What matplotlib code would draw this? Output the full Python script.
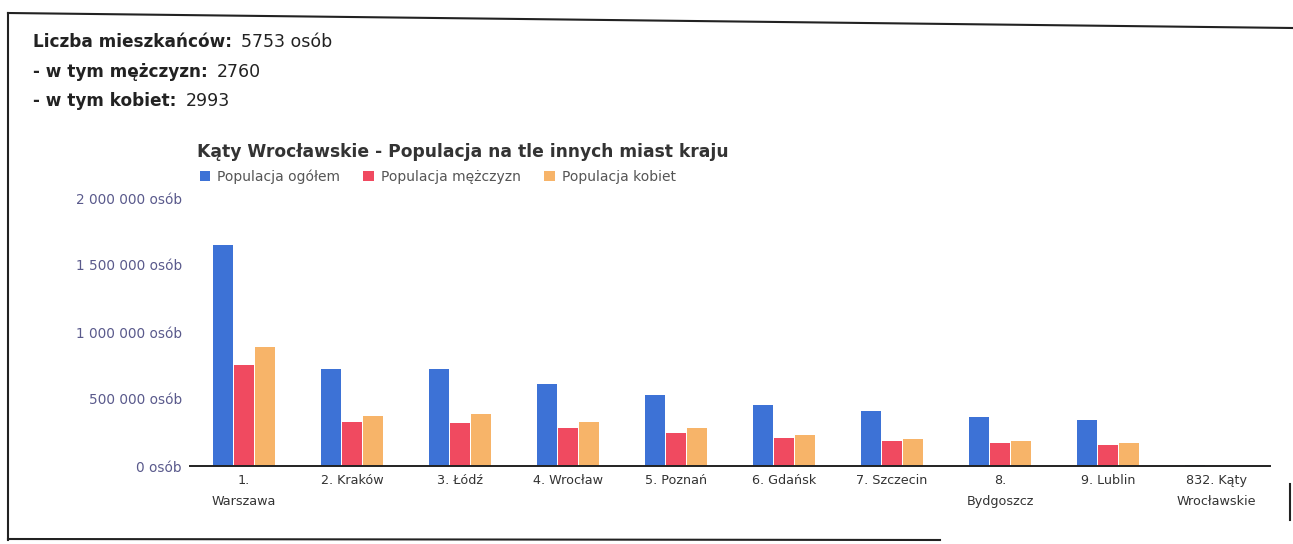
import matplotlib
matplotlib.use("Agg")
import matplotlib.pyplot as plt
import numpy as np
from matplotlib.lines import Line2D

plt.rcParams['font.family'] = ['DejaVu Sans']

categories = ["1.\nWarszawa", "2. Kraków", "3. Łódź", "4. Wrocław", "5. Poznań",
              "6. Gdańsk", "7. Szczecin", "8.\nBydgoszcz", "9. Lublin", "832. Kąty\nWrocławskie"]
pop_total = [1650000, 723000, 725000, 613000, 530000, 455000, 410000, 364000, 340000, 5753]
pop_men = [753000, 328000, 324000, 280000, 250000, 210000, 190000, 170000, 153000, 2760]
pop_women = [890000, 370000, 385000, 325000, 280000, 230000, 200000, 185000, 170000, 2993]
series_labels = ["Populacja ogółem", "Populacja mężczyzn", "Populacja kobiet"]
yticks = [0, 500000, 1000000, 1500000, 2000000]
ytick_labels = ["0 osób", "500 000 osób", "1 000 000 osób", "1 500 000 osób", "2 000 000 osób"]

header_bold = ["Liczba mieszkańców:", "- w tym mężczyzn:", "- w tym kobiet:"]
header_vals = ["5753 osób", "2760", "2993"]
title = "Kąty Wrocławskie - Populacja na tle innych miast kraju"

colors = ["#3d72d6", "#f04a60", "#f7b469"]

W, H = 1293, 544
fig = plt.figure(figsize=(W / 100, H / 100), dpi=100)
fig.patch.set_facecolor("white")

ax = fig.add_axes([190 / W, 1 - 466 / H, (1270 - 190) / W, (466 - 198) / H])
x = np.arange(len(categories))
bw = 0.195
for i, (vals, c, lab) in enumerate(zip([pop_total, pop_men, pop_women], colors, series_labels)):
    ax.bar(x + (i - 1) * bw, vals, width=bw * 0.95, color=c, label=lab, zorder=2)

ax.set_xlim(-0.5, len(categories) - 0.5)
ax.set_ylim(0, 2000000)
ax.set_yticks(yticks)
ax.set_yticklabels(ytick_labels, color="#5a5a8c", fontsize=9.8)
ax.set_xticks(x)
ax.set_xticklabels(categories, fontsize=9.2, color="#333333", linespacing=1.75)
ax.tick_params(axis="y", length=0, pad=6)
ax.tick_params(axis="x", length=0, pad=6)
for s in ["top", "right", "left"]:
    ax.spines[s].set_visible(False)
ax.spines["bottom"].set_color("#222222")
ax.spines["bottom"].set_linewidth(1.4)

# header texts
ys = [42, 72, 101]
for yy, b, v in zip(ys, header_bold, header_vals):
    t = fig.text(33 / W, 1 - yy / H, b, fontsize=12.2, fontweight="bold", color="#222222", va="center")
    fig.canvas.draw()
    bb = t.get_window_extent()
    fig.text((bb.x1 + 9) / W, 1 - yy / H, v, fontsize=12.5, color="#222222", va="center")

fig.text(197 / W, 1 - 152 / H, title, fontsize=12.3, fontweight="bold", color="#333333", va="center")

handles, labels = ax.get_legend_handles_labels()
fig.legend(handles, labels, loc="center left", bbox_to_anchor=(187 / W, 1 - 177 / H), ncol=3,
           frameon=False, fontsize=10, handlelength=0.75, handleheight=0.75,
           columnspacing=1.7, handletextpad=0.5, labelcolor="#555555")

# scanned page border
fig.add_artist(Line2D([8 / W, 1], [1 - 13 / H, 1 - 28 / H], color="#222222", lw=1.5))
fig.add_artist(Line2D([8 / W, 8 / W], [1 - 13 / H, 1 - 540 / H], color="#222222", lw=1.5))
fig.add_artist(Line2D([8 / W, 940 / W], [1 - 539 / H, 1 - 540 / H], color="#222222", lw=1.5))
fig.add_artist(Line2D([1290 / W, 1290 / W], [1 - 484 / H, 1 - 520 / H], color="#222222", lw=1.5))

fig.savefig("out.png", dpi=100, facecolor="white")
